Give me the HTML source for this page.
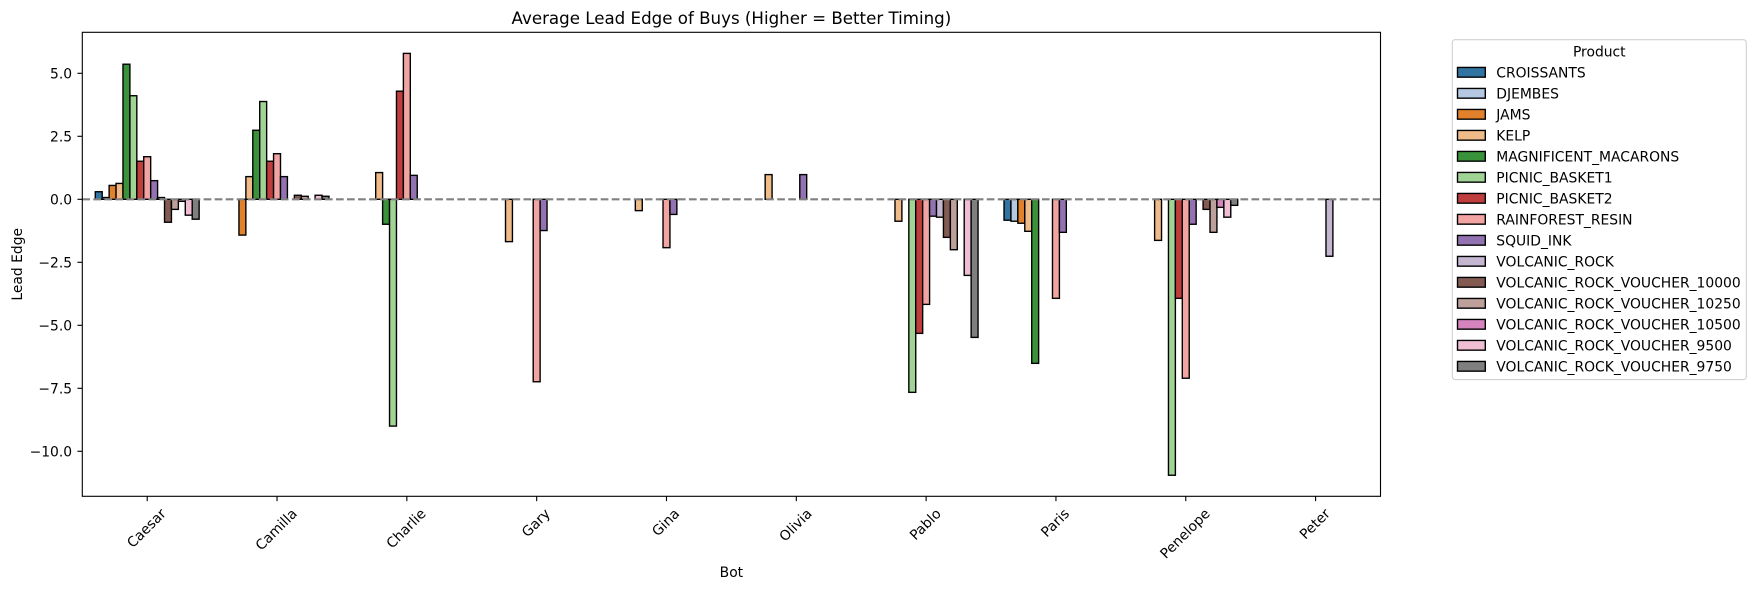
<!DOCTYPE html>
<html lang="en">
<head>
<meta charset="utf-8">
<title>Average Lead Edge of Buys</title>
<style>
html,body{margin:0;padding:0;background:#fff;width:1755px;height:590px;overflow:hidden}
svg{display:block}
text{font-family:"DejaVu Sans","Liberation Sans",sans-serif;fill:#000;font-size:13.89px}
</style>
</head>
<body>
<svg id="chart" xmlns="http://www.w3.org/2000/svg" width="1755" height="590" viewBox="0 0 1755 590">
  <rect x="0" y="0" width="1755" height="590" fill="#fff"/>
  <text x="731.4" y="24" text-anchor="middle" style="font-size:16.67px">Average Lead Edge of Buys (Higher = Better Timing)</text>
  <text x="731.4" y="577" text-anchor="middle">Bot</text>
  <text x="0" y="0" text-anchor="middle" transform="translate(22 264.3) rotate(-90)">Lead Edge</text>
  <g id="bars"></g>
  <line id="zero-line" stroke="#808080" stroke-width="2.08" stroke-dasharray="7.7 3.33"/>
  <g id="axes"></g>
  <g id="legend"></g>
</svg>
<script>
const categories = ["Caesar","Camilla","Charlie","Gary","Gina","Olivia","Pablo","Paris","Penelope","Peter"];
const products = ["CROISSANTS","DJEMBES","JAMS","KELP","MAGNIFICENT_MACARONS","PICNIC_BASKET1","PICNIC_BASKET2","RAINFOREST_RESIN","SQUID_INK","VOLCANIC_ROCK","VOLCANIC_ROCK_VOUCHER_10000","VOLCANIC_ROCK_VOUCHER_10250","VOLCANIC_ROCK_VOUCHER_10500","VOLCANIC_ROCK_VOUCHER_9500","VOLCANIC_ROCK_VOUCHER_9750"];
const yTicks = [5, 2.5, 0, -2.5, -5, -7.5, -10];
const yTickLabels = ["5.0","2.5","0.0","\u22122.5","\u22125.0","\u22127.5","\u221210.0"];

const croissants = [0.30,null,null,null,null,null,null,-0.83,null,null];
const djembes    = [0.07,null,null,null,null,null,null,-0.87,null,null];
const jams       = [0.55,-1.42,null,null,null,null,null,-0.95,null,null];
const kelp       = [0.63,0.90,1.06,-1.68,-0.45,0.98,-0.87,-1.27,-1.63,null];
const macarons   = [5.36,2.74,-0.99,null,null,null,null,-6.51,null,null];
const basket1    = [4.11,3.88,-9.00,null,null,null,-7.66,null,-10.95,null];
const basket2    = [1.51,1.51,4.29,null,null,null,-5.32,null,-3.93,null];
const resin      = [1.69,1.81,5.79,-7.24,-1.92,null,-4.17,-3.93,-7.10,null];
const squid      = [0.74,0.90,0.95,-1.24,-0.60,0.98,-0.67,-1.31,-0.99,null];
const rock       = [0.07,null,null,null,null,null,-0.71,null,null,-2.26];
const v10000     = [-0.91,0.16,null,null,null,null,-1.51,null,-0.40,null];
const v10250     = [-0.40,0.12,null,null,null,null,-2.00,null,-1.31,null];
const v10500     = [-0.08,null,null,null,null,null,null,null,-0.32,null];
const v9500      = [-0.63,0.16,null,null,null,null,-3.02,null,-0.71,null];
const v9750      = [-0.79,0.12,null,null,null,null,-5.48,null,-0.24,null];

const seriesValues = [croissants,djembes,jams,kelp,macarons,basket1,basket2,resin,squid,rock,v10000,v10250,v10500,v9500,v9750];
const seriesColors = ["#3274a1","#b5c8e1","#e1812c","#eebb89","#3a923a","#9fd495","#c03d3e","#f2a4a3","#9372b2","#c4b5d0","#845b53","#bea09a","#d684bd","#efbed3","#7f7f7f"];

const NS = "http://www.w3.org/2000/svg";
const plot = {left:82.3, right:1380.5, top:32.3, bottom:496.3};
const yDomain = {max:6.627, min:-11.786};

function xScale(v){
  return plot.left + (v + 0.5) / categories.length * (plot.right - plot.left);
}
function yScale(v){
  return plot.top + (yDomain.max - v) / (yDomain.max - yDomain.min) * (plot.bottom - plot.top);
}
function make(tag, attrs, parent){
  const el = document.createElementNS(NS, tag);
  for (const k in attrs) el.setAttribute(k, attrs[k]);
  parent.appendChild(el);
  return el;
}

/* bars */
const barsGroup = document.getElementById("bars");
const groupWidth = 0.8;
const barWidth = groupWidth / products.length;
seriesValues.forEach(function(values, s){
  values.forEach(function(v, c){
    if (v === null) return;
    const x0 = xScale(c - groupWidth / 2 + s * barWidth);
    const x1 = xScale(c - groupWidth / 2 + (s + 1) * barWidth);
    const yTop = yScale(Math.max(v, 0));
    const yBottom = yScale(Math.min(v, 0));
    const bar = make("rect", {x:x0, y:yTop, width:x1 - x0, height:yBottom - yTop, fill:seriesColors[s], stroke:"#000", "stroke-width":1.39}, barsGroup);
    
    
  });
});

/* zero line */
const zeroLine = document.getElementById("zero-line");
zeroLine.setAttribute("x1", plot.left);
zeroLine.setAttribute("x2", plot.right);
zeroLine.setAttribute("y1", yScale(0));
zeroLine.setAttribute("y2", yScale(0));

/* axes */
const axesGroup = document.getElementById("axes");
const frame = make("rect", {x:plot.left, y:plot.top, width:plot.right - plot.left, height:plot.bottom - plot.top, fill:"none", stroke:"#000", "stroke-width":1.11}, axesGroup);



yTicks.forEach(function(t, i){
  const y = yScale(t);
  const mark = make("line", {x1:plot.left - 4.86, x2:plot.left, y1:y, y2:y, stroke:"#000", "stroke-width":1.11}, axesGroup);
  
  
  const label = make("text", {x:plot.left - 10.2, y:y + 5.05, "text-anchor":"end"}, axesGroup);
  label.textContent = yTickLabels[i];
  
  
});

categories.forEach(function(name, i){
  const x = xScale(i);
  const mark = make("line", {x1:x, x2:x, y1:plot.bottom, y2:plot.bottom + 4.86, stroke:"#000", "stroke-width":1.11}, axesGroup);
  
  
  const label = make("text", {x:0, y:5, "text-anchor":"middle"}, axesGroup);
  label.textContent = name;
  
  
  const w = label.getComputedTextLength();
  const cy = plot.bottom + 9.7 + (w + 14) * 0.7071 / 2;
  label.setAttribute("transform", "translate(" + (x - 1) + " " + cy + ") rotate(-45)");
});

/* legend */
const legendGroup = document.getElementById("legend");
const legendBox = {left:1452.3, top:39.7, bottom:379.6};
const legendFrame = make("rect", {x:legendBox.left, y:legendBox.top, width:290, height:legendBox.bottom - legendBox.top, rx:2.8, ry:2.8, fill:"#fff", stroke:"#d0d0d0", "stroke-width":1.11}, legendGroup);


const legendTitle = make("text", {y:51.4 + 5.05, "text-anchor":"middle"}, legendGroup);
legendTitle.textContent = "Product";



let maxTextWidth = 0;
products.forEach(function(name, i){
  const cy = 72.3 + i * 21;
  const swatch = make("rect", {x:1457.5, y:cy - 4.86, width:27.8, height:9.72, fill:seriesColors[i], stroke:"#000", "stroke-width":1.39}, legendGroup);
  
  
  const label = make("text", {x:1496.3, y:cy + 5.05}, legendGroup);
  label.textContent = name;
  
  
  maxTextWidth = Math.max(maxTextWidth, label.getComputedTextLength());
});
const legendWidth = 1496.3 + maxTextWidth + 5.6 - legendBox.left;
legendFrame.setAttribute("width", legendWidth);
legendTitle.setAttribute("x", legendBox.left + legendWidth / 2);
</script>
</body>
</html>
